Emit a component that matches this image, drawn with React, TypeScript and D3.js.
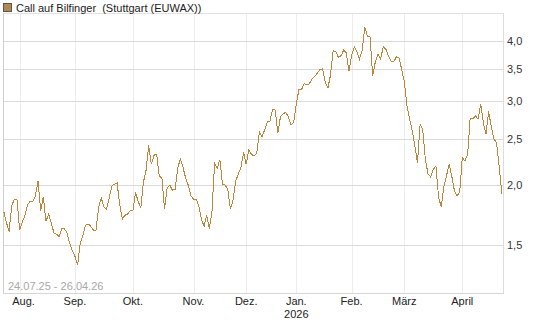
import React, { useEffect, useRef } from "react";
import * as d3 from "d3";

const title = "Call auf Bilfinger  (Stuttgart (EUWAX))";
const rangeLabel = "24.07.25 - 26.04.26";
const firstDay = "2025-07-24";
const lastDay = "2026-04-24";
// exchange closed on these weekdays
const holidays = ["2025-12-24", "2025-12-25", "2025-12-26", "2025-12-31", "2026-01-01", "2026-04-03", "2026-04-06"];
const monthLabels = ["Aug.", "Sep.", "Okt.", "Nov.", "Dez.", "Jan.", "Feb.", "März", "April"];
const yearLabels = ["", "", "", "", "", "2026", "", "", ""];
const yTicks = [1.5, 2.0, 2.5, 3.0, 3.5, 4.0];

// daily closes, one per trading day
const closes = [
  1.76, 1.67, 1.6, 1.81, 1.87, 1.87, 1.61, 1.67, 1.73, 1.82,
  1.85, 1.85, 1.9, 2.04, 1.77, 1.89, 1.68, 1.74, 1.67, 1.59,
  1.58, 1.56, 1.62, 1.62, 1.59, 1.51, 1.46, 1.42, 1.36, 1.51,
  1.57, 1.65, 1.66, 1.64, 1.61, 1.61, 1.8, 1.88, 1.8, 1.78,
  1.88, 1.99, 2.01, 2.02, 1.82, 1.7, 1.73, 1.74, 1.77, 1.77,
  1.93, 1.85, 1.79, 2.03, 2.15, 2.42, 2.21, 2.31, 2.32, 2.09,
  2.07, 1.78, 1.97, 2.0, 1.95, 1.96, 2.17, 2.27, 2.18, 2.07,
  2.0, 1.9, 1.87, 1.87, 1.81, 1.7, 1.64, 1.73, 1.62, 1.76,
  2.22, 2.17, 2.26, 2.01, 2.0, 1.96, 1.78, 1.86, 2.04, 2.11,
  2.18, 2.34, 2.21, 2.37, 2.32, 2.3, 2.33, 2.58, 2.52, 2.61,
  2.71, 2.72, 2.88, 2.87, 2.57, 2.78, 2.82, 2.84, 2.78, 2.67,
  2.71, 2.95, 3.17, 3.17, 3.26, 3.24, 3.26, 3.34, 3.37, 3.43,
  3.49, 3.5, 3.28, 3.19, 3.4, 3.82, 3.8, 3.7, 3.73, 3.83,
  3.78, 3.46, 3.73, 3.89, 3.8, 3.67, 3.83, 4.28, 4.1, 4.08,
  3.38, 3.62, 3.75, 3.67, 3.89, 3.85, 3.72, 3.63, 3.62, 3.71,
  3.69, 3.49, 3.29, 2.93, 2.75, 2.6, 2.42, 2.23, 2.68, 2.61,
  2.26, 2.11, 2.08, 2.16, 2.19, 1.89, 1.8, 1.98, 2.09, 2.21,
  2.09, 1.95, 1.9, 1.93, 2.28, 2.25, 2.31, 2.76, 2.75, 2.79,
  2.75, 2.95, 2.7, 2.56, 2.85, 2.65, 2.5, 2.45, 2.19, 1.92,
];

const App = () => {
  const ref = useRef<SVGSVGElement>(null);

  useEffect(() => {
    const width = 545;
    const height = 327;
    const left = 3;
    const right = 503;
    const top = 13;
    const bottom = 293;
    const font = "'Liberation Sans', Arial, sans-serif";

    const svg = d3.select(ref.current);
    svg.selectAll("*").remove();
    svg.attr("width", width).attr("height", height);

    const parse = d3.timeParse("%Y-%m-%d");
    const fmt = d3.timeFormat("%Y-%m-%d");
    const days = d3
      .timeDay.range(parse(firstDay)!, d3.timeDay.offset(parse(lastDay)!, 1))
      .filter((d) => d.getDay() !== 0 && d.getDay() !== 6 && !holidays.includes(fmt(d)));

    const data = closes.map((v, i) => ({ date: days[i], value: v }));

    // first trading day of each month
    const monthStarts: number[] = [];
    for (let i = 1; i < days.length; i++) {
      if (days[i].getMonth() !== days[i - 1].getMonth()) monthStarts.push(i);
    }

    const x = d3.scaleLinear().domain([0, days.length - 1]).range([3.8, 501.8]);
    const y = d3.scaleLog().domain([1.19, 4.58]).range([bottom, top]);

    // vertical grid
    svg
      .append("g")
      .selectAll("line")
      .data(monthStarts)
      .enter()
      .append("line")
      .attr("x1", (d) => Math.round(x(d)) + 0.5)
      .attr("x2", (d) => Math.round(x(d)) + 0.5)
      .attr("y1", top)
      .attr("y2", bottom)
      .attr("stroke", "#ececec");

    // horizontal grid
    svg
      .append("g")
      .selectAll("line")
      .data(yTicks)
      .enter()
      .append("line")
      .attr("x1", left)
      .attr("x2", right)
      .attr("y1", (d) => Math.round(y(d)) + 0.5)
      .attr("y2", (d) => Math.round(y(d)) + 0.5)
      .attr("stroke", "#dadada");

    // frame
    svg.append("line").attr("x1", left).attr("x2", right).attr("y1", top + 0.5).attr("y2", top + 0.5).attr("stroke", "#e2e2e2");
    svg.append("line").attr("x1", left).attr("x2", right + 1).attr("y1", bottom + 0.5).attr("y2", bottom + 0.5).attr("stroke", "#d6d6d6");
    svg.append("line").attr("x1", left + 0.5).attr("x2", left + 0.5).attr("y1", top).attr("y2", bottom).attr("stroke", "#cfcfcf");
    svg.append("line").attr("x1", right + 0.5).attr("x2", right + 0.5).attr("y1", top).attr("y2", bottom).attr("stroke", "#dcdcdc");

    // y labels
    svg
      .append("g")
      .selectAll("text")
      .data(yTicks)
      .enter()
      .append("text")
      .attr("x", 507)
      .attr("y", (d) => y(d))
      .attr("dy", "0.35em")
      .attr("font-family", font)
      .attr("font-size", 11)
      .attr("fill", "#333")
      .text((d) => d3.format(".1f")(d).replace(".", ","));

    // x labels (the first one sits a bit right of its gridline)
    const xl = svg.append("g");
    monthStarts.forEach((m, i) => {
      const cx = i === 0 ? x(m) + 4 : x(m);
      xl.append("text")
        .attr("x", cx)
        .attr("y", 305)
        .attr("text-anchor", "middle")
        .attr("font-family", font)
        .attr("font-size", 11)
        .attr("fill", "#222")
        .text(monthLabels[i]);
      if (yearLabels[i]) {
        xl.append("text")
          .attr("x", cx)
          .attr("y", 318)
          .attr("text-anchor", "middle")
          .attr("font-family", font)
          .attr("font-size", 11)
          .attr("fill", "#222")
          .text(yearLabels[i]);
      }
    });

    // date range
    svg
      .append("text")
      .attr("x", 8)
      .attr("y", 290)
      .attr("font-family", font)
      .attr("font-size", 11)
      .attr("fill", "#a8a8a8")
      .text(rangeLabel);

    // price line
    const line = d3
      .line<{ date: Date; value: number }>()
      .x((d, i) => x(i))
      .y((d) => y(d.value));

    svg
      .append("path")
      .datum(data)
      .attr("d", line)
      .attr("fill", "none")
      .attr("stroke", "#b8873d")
      .attr("stroke-width", 1)
      .attr("shape-rendering", "crispEdges");

    // legend
    svg
      .append("rect")
      .attr("x", 3.5)
      .attr("y", 3.5)
      .attr("width", 8)
      .attr("height", 8)
      .attr("fill", "#b08850")
      .attr("stroke", "#555");
    svg
      .append("text")
      .attr("x", 16)
      .attr("y", 12)
      .attr("font-family", font)
      .attr("font-size", 11)
      .attr("fill", "#222")
      .text(title)
      .style("white-space", "pre");
  }, []);

  return <svg ref={ref} style={{ position: "absolute", left: 0, top: 0 }} />;
};

export default App;
